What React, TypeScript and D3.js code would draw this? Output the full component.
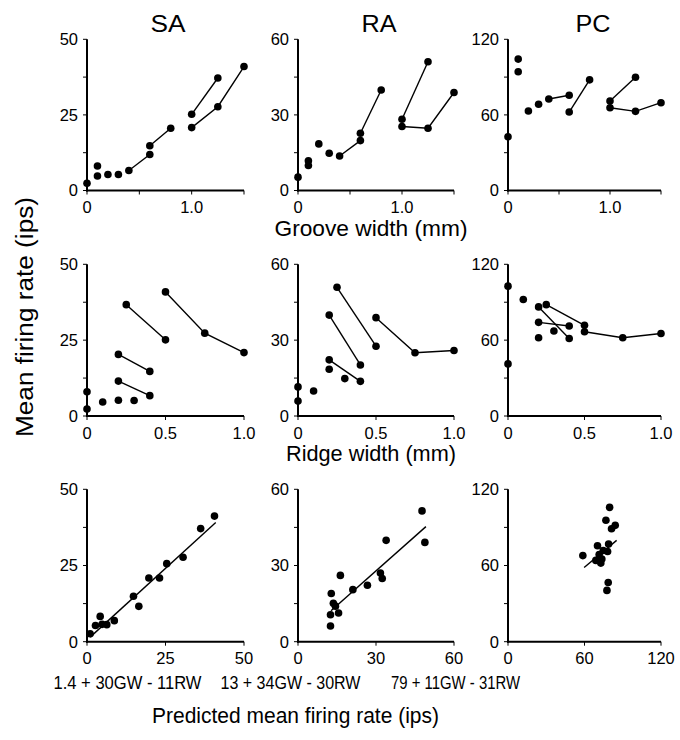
import React from "react";
import * as d3 from "d3";

// ---------- DATA ----------
const cellTypes = ["SA", "RA", "PC"];

// Row 1: firing rate vs groove width (mm)
const grooveX = [0, 0.1, 0.1, 0.2, 0.3, 0.4, 0.6, 0.6, 0.8, 1.0, 1.25, 1.0, 1.25, 1.5];
const saGrooveY = [2.4, 8.1, 4.8, 5.3, 5.3, 6.6, 11.9, 14.8, 20.6, 25.2, 37.2, 20.8, 27.7, 41.0];
const raGrooveY = [5.3, 11.8, 9.9, 18.5, 14.8, 13.7, 19.8, 22.7, 39.9, 28.3, 51.1, 25.4, 24.7, 38.9];
const pcGrooveY = [42.6, 104.3, 94.2, 63.1, 68.4, 72.6, 75.6, 62.3, 87.8, 71.0, 89.9, 65.7, 62.8, 69.7];

// Row 2: firing rate vs ridge width (mm)
const ridgeX = [0, 0, 0.1, 0.2, 0.3, 0.2, 0.4, 0.2, 0.4, 0.25, 0.5, 0.5, 0.75, 1.0];
const saRidgeY = [8.0, 2.3, 4.6, 5.2, 5.1, 11.5, 6.7, 20.3, 14.7, 36.7, 25.1, 40.9, 27.3, 20.9];
const raRidgeY = [11.5, 5.9, 9.9, 18.5, 14.8, 22.2, 13.7, 39.9, 20.2, 50.9, 27.6, 38.9, 25.0, 25.9];
const pcRidgeY = [102.7, 41.2, 92.1, 61.9, 67.2, 74.1, 71.2, 86.3, 61.3, 88.1, 71.7, 66.6, 61.9, 65.3];

// index groups joined by lines (rows 1 and 2)
const seriesGroups = [[5, 6], [7, 8], [9, 10], [11, 12, 13]];

// Row 3: observed vs predicted mean firing rate
const saPredX = [1.0, 2.7, 4.2, 4.8, 6.3, 8.7, 14.8, 16.5, 19.7, 23.1, 25.4, 30.6, 36.2, 40.6];
const saPredY = [2.6, 5.3, 8.3, 5.7, 5.6, 6.9, 14.9, 11.6, 20.9, 20.9, 25.6, 27.7, 37.1, 41.2];
const raPredX = [12.5, 12.5, 12.8, 13.6, 14.4, 15.6, 16.3, 21.1, 26.7, 31.7, 32.4, 33.9, 47.7, 48.8];
const raPredY = [6.2, 10.6, 19.0, 15.1, 14.0, 11.3, 26.1, 20.5, 22.2, 27.0, 24.9, 39.9, 51.5, 39.1];
const pcPredX = [58.7, 79.7, 76.8, 84.1, 81.2, 78.9, 70.2, 74.7, 71.5, 78.1, 68.9, 73.6, 72.8, 78.6, 77.6];
const pcPredY = [67.8, 105.8, 95.6, 91.6, 88.9, 76.9, 75.5, 71.8, 68.6, 71.0, 64.0, 65.1, 61.9, 46.6, 40.4];

// regression line ends (predicted, observed)
const saFitX = [1.0, 41.0];
const saFitY = [1.5, 39.1];
const raFitX = [12.7, 49.2];
const raFitY = [12.2, 45.3];
const pcFitX = [59.7, 85.2];
const pcFitY = [58.4, 79.8];

// axis extents & ticks
const yMax = [50, 60, 120];
const yTicks = [[0, 12.5, 25, 37.5, 50], [0, 15, 30, 45, 60], [0, 30, 60, 90, 120]];
const yTickLabels = [["0", "25", "50"], ["0", "30", "60"], ["0", "60", "120"]];
const grooveTicks = [0, 0.5, 1.0, 1.5];
const grooveTickLabels = [[0, "0"], [1.0, "1.0"]];
const ridgeTicks = [0, 0.5, 1.0];
const ridgeTickLabels = [[0, "0"], [0.5, "0.5"], [1.0, "1.0"]];
const predTicks = [[0, 25, 50], [0, 30, 60], [0, 60, 120]];
const formulas = ["1.4 + 30GW - 11RW", "13 + 34GW - 30RW", "79 + 11GW - 31RW"];

// ---------- LAYOUT ----------
const W = 680;
const H = 740;
const FONT = "'Liberation Sans', Arial, Helvetica, sans-serif";
const colX = [[87, 244], [298, 454], [508, 661]];
const rowY = [[190.5, 39.3], [416, 264.3], [641.7, 489.3]];
const titleX = [168, 379, 593];
const formulaX = [127.5, 290.5, 455.5];
const formulaW = [148, 140, 129];

type PanelProps = {
  col: number;
  row: number;
  xs: number[];
  ys: number[];
  xMax: number;
  xTicks: number[];
  xLabels: [number, string][];
  groups?: number[][];
  fit?: { x: number[]; y: number[] };
};

function Panel({ col, row, xs, ys, xMax, xTicks, xLabels, groups, fit }: PanelProps) {
  const x = d3.scaleLinear().domain([0, xMax]).range(colX[col]);
  const y = d3.scaleLinear().domain([0, yMax[col]]).range(rowY[row]);
  const line = d3
    .line<number>()
    .x((i) => x(xs[i]))
    .y((i) => y(ys[i]));
  const x0 = colX[col][0];
  const y0 = rowY[row][0];
  const labelledY = yTicks[col].filter((_, i) => i % 2 === 0);
  return (
    <g>
      {/* axes */}
      <line x1={x0} x2={x0} y1={y(yMax[col])} y2={y0 + 1} stroke="#000" strokeWidth={2} />
      <line x1={x0 - 1} x2={x(xMax)} y1={y0} y2={y0} stroke="#000" strokeWidth={2} />
      {yTicks[col].map((t) => (
        <line key={"yt" + t} x1={x0 - 4} x2={x0} y1={y(t)} y2={y(t)} stroke="#000" strokeWidth={1} />
      ))}
      {labelledY.map((t, i) => (
        <text
          key={"yl" + t}
          x={x0 - 9}
          y={y(t)}
          dy="0.36em"
          textAnchor="end"
          fontSize={16.5}
          fontFamily={FONT}
        >
          {yTickLabels[col][i]}
        </text>
      ))}
      {xTicks.map((t) => (
        <line key={"xt" + t} x1={x(t)} x2={x(t)} y1={y0} y2={y0 + 4} stroke="#000" strokeWidth={1} />
      ))}
      {xLabels.map(([t, l]) => (
        <text key={"xl" + t} x={x(t)} y={y0 + 22.5} textAnchor="middle" fontSize={16.5} fontFamily={FONT}>
          {l}
        </text>
      ))}
      {/* lines */}
      {groups &&
        groups.map((g, i) => (
          <path key={"g" + i} d={line(g) || ""} fill="none" stroke="#000" strokeWidth={1.4} />
        ))}
      {fit && (
        <line
          x1={x(fit.x[0])}
          y1={y(fit.y[0])}
          x2={x(fit.x[1])}
          y2={y(fit.y[1])}
          stroke="#000"
          strokeWidth={1.4}
        />
      )}
      {/* dots */}
      {xs.map((v, i) => (
        <circle key={"c" + i} cx={x(v)} cy={y(ys[i])} r={3.8} fill="#000" />
      ))}
    </g>
  );
}

export default function App() {
  const grooveYs = [saGrooveY, raGrooveY, pcGrooveY];
  const ridgeYs = [saRidgeY, raRidgeY, pcRidgeY];
  const predXs = [saPredX, raPredX, pcPredX];
  const predYs = [saPredY, raPredY, pcPredY];
  const fitXs = [saFitX, raFitX, pcFitX];
  const fitYs = [saFitY, raFitY, pcFitY];
  const predMax = [50, 60, 120];
  return (
    <svg
      width={W}
      height={H}
      viewBox={`0 0 ${W} ${H}`}
      style={{ position: "absolute", left: 0, top: 0, background: "#fff" }}
    >
      <rect width={W} height={H} fill="#fff" />
      {cellTypes.map((c, i) => (
        <text
          key={c}
          x={titleX[i]}
          y={31.5}
          textAnchor="middle"
          fontSize={23}
          fontFamily={FONT}
          textLength={35}
          lengthAdjust="spacingAndGlyphs"
        >
          {c}
        </text>
      ))}
      {cellTypes.map((c, i) => (
        <Panel
          key={"r1" + c}
          col={i}
          row={0}
          xs={grooveX}
          ys={grooveYs[i]}
          xMax={1.5}
          xTicks={grooveTicks}
          xLabels={grooveTickLabels as [number, string][]}
          groups={seriesGroups}
        />
      ))}
      {cellTypes.map((c, i) => (
        <Panel
          key={"r2" + c}
          col={i}
          row={1}
          xs={ridgeX}
          ys={ridgeYs[i]}
          xMax={1.0}
          xTicks={ridgeTicks}
          xLabels={ridgeTickLabels as [number, string][]}
          groups={seriesGroups}
        />
      ))}
      {cellTypes.map((c, i) => (
        <Panel
          key={"r3" + c}
          col={i}
          row={2}
          xs={predXs[i]}
          ys={predYs[i]}
          xMax={predMax[i]}
          xTicks={predTicks[i]}
          xLabels={predTicks[i].map((t) => [t, String(t)]) as [number, string][]}
          fit={{ x: fitXs[i], y: fitYs[i] }}
        />
      ))}
      <text x={371} y={236} textAnchor="middle" fontSize={22} fontFamily={FONT} textLength={193} lengthAdjust="spacingAndGlyphs">
        Groove width (mm)
      </text>
      <text x={371} y={461} textAnchor="middle" fontSize={22} fontFamily={FONT} textLength={170} lengthAdjust="spacingAndGlyphs">
        Ridge width (mm)
      </text>
      <text
        transform="translate(33,317) rotate(-90)"
        textAnchor="middle"
        fontSize={23}
        fontFamily={FONT}
        textLength={240}
        lengthAdjust="spacingAndGlyphs"
      >
        Mean firing rate (ips)
      </text>
      {formulas.map((f, i) => (
        <text
          key={f}
          x={formulaX[i]}
          y={689}
          textAnchor="middle"
          fontSize={18}
          fontFamily={FONT}
          textLength={formulaW[i]}
          lengthAdjust="spacingAndGlyphs"
        >
          {f}
        </text>
      ))}
      <text x={295.5} y={723} textAnchor="middle" fontSize={22} fontFamily={FONT} textLength={287} lengthAdjust="spacingAndGlyphs">
        Predicted mean firing rate  (ips)
      </text>
    </svg>
  );
}
